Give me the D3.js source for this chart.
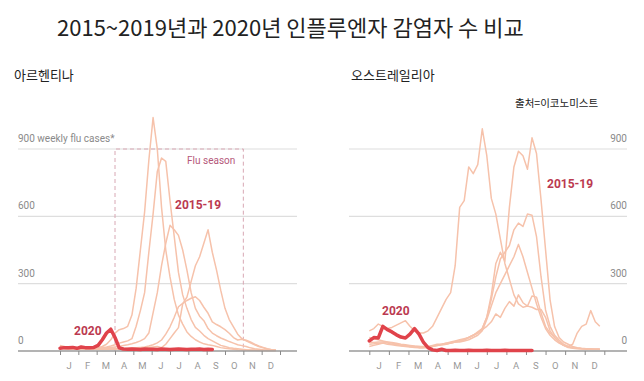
<!DOCTYPE html>
<html><head><meta charset="utf-8">
<script src="https://cdn.jsdelivr.net/npm/d3@7"></script>
<style>
html,body{margin:0;padding:0;background:#fff;}
svg{display:block;}
</style></head>
<body>
<svg id="c" width="644" height="381"></svg>
<script>
// ---------- data ----------
const months = ["J","F","M","A","M","J","J","A","S","O","N","D"];
const yTicks = [0, 300, 600, 900];
const seasonMonths = [3, 10]; // Apr start .. Nov start (Argentina flu season)

// Argentina weekly flu cases (weeks 0..51)
const argA = [25,20,15,15,12,12,10,10,12,15,20,30,50,80,95,100,110,160,280,450,620,850,1040,900,640,450,330,230,160,120,85,65,50,40,32,28,25,20,15,12,10,8,6,5,4,3,3,2,2,2,2,2];
const argB = [10,10,8,8,8,8,8,10,10,12,15,18,22,28,35,40,45,55,110,180,260,440,610,800,860,845,670,510,350,250,190,140,105,89,70,55,45,35,25,20,15,12,10,8,6,5,4,3,3,2,2,2];
const argC = [15,12,10,10,8,8,8,8,10,10,12,14,16,18,20,25,28,32,38,45,55,80,170,260,380,480,560,540,515,450,360,260,190,155,135,100,80,68,58,50,42,35,28,24,20,14,10,8,6,5,4,3];
const argD = [15,12,10,10,10,8,8,8,8,8,8,8,8,8,10,10,10,12,12,14,14,16,18,20,15,30,55,80,104,210,240,310,380,420,480,540,440,360,270,190,140,108,75,55,45,36,28,20,14,9,6,4];
const argE = [20,18,15,12,10,10,10,10,10,10,10,10,10,10,10,10,12,12,14,16,18,22,28,36,49,75,108,150,197,212,225,235,242,225,195,168,130,118,108,95,79,60,49,52,48,40,30,22,16,10,6,4];
const arg2020 = [12,15,14,16,12,18,15,14,16,25,50,80,97,60,14,9,8,9,8,7,9,8,8,7,9,8,7,8,9,8,7,8,8,9,7,8,7];

// Australia weekly flu cases (weeks 0..51)
const ausA = [90,100,120,110,100,105,115,125,135,110,90,80,80,90,110,150,190,230,260,380,640,670,820,790,830,990,870,680,610,500,390,320,250,210,195,200,195,185,185,150,90,60,40,25,20,30,80,110,120,180,130,110];
const ausB = [40,38,40,40,35,30,30,25,25,20,20,20,20,20,25,30,30,35,40,45,50,55,60,70,80,100,150,250,390,440,400,640,820,890,870,810,950,880,674,451,228,109,60,40,30,20,15,12,10,10,8,8];
const ausC = [60,55,50,45,40,38,35,30,28,25,22,20,18,18,20,25,28,30,35,40,45,50,60,70,85,100,150,230,330,410,440,470,540,570,555,610,605,510,331,183,110,70,49,30,20,15,12,10,10,8,8,8];
const ausD = [30,32,35,35,30,28,25,22,20,18,16,15,15,18,22,25,28,30,35,40,40,45,50,60,70,90,140,200,260,300,340,380,420,475,420,350,280,210,150,100,70,50,35,25,18,14,12,10,10,8,8,8];
const ausE = [20,25,30,35,40,35,30,25,25,20,20,15,15,15,20,25,30,35,35,40,45,50,60,70,80,95,110,130,165,150,190,220,200,250,215,200,245,240,170,110,80,60,40,25,15,12,10,10,8,8,8,8];
const aus2020 = [45,60,58,110,95,85,72,62,58,75,100,75,38,15,5,2,8,2,2,3,2,2,3,2,2,2,3,2,2,2,3,2,2,2,2,2,2];

// ---------- drawing ----------
const svg = d3.select("#c");
const cPast = "#f6c2ab", c2020 = "#e0434b", cLabel = "#bb3a50";
const FONT = "Roboto, 'Noto Sans', sans-serif";
const KFONT = "'Noto Sans CJK KR', sans-serif";

svg.append("text").attr("x", 57).attr("y", 36)
  .attr("font-family", KFONT).attr("font-size", 22).attr("fill", "#222")
  .text("2015~2019년과 2020년 인플루엔자 감염자 수 비교");
svg.append("text").attr("x", 14).attr("y", 80)
  .attr("font-family", KFONT).attr("font-size", 13).attr("fill", "#222").text("아르헨티나");
svg.append("text").attr("x", 351).attr("y", 80)
  .attr("font-family", KFONT).attr("font-size", 13).attr("fill", "#222").text("오스트레일리아");
svg.append("text").attr("x", 515).attr("y", 107)
  .attr("font-family", KFONT).attr("font-size", 10.5).attr("fill", "#222").text("출처=이코노미스트");

function panel(cfg) {
  const g = svg.append("g");
  const y = d3.scaleLinear().domain([0, 900]).range([351, 149]);
  const xm = d3.scaleLinear().domain([0, 12]).range(cfg.xr);
  const xw = d3.scaleLinear().domain([0, 52]).range(cfg.xr);

  // gridlines
  g.selectAll("line.grid").data(yTicks.filter(d => d > 0)).join("line")
    .attr("x1", cfg.gx[0]).attr("x2", cfg.gx[1])
    .attr("y1", d => y(d)).attr("y2", d => y(d))
    .attr("stroke", "#dedede").attr("stroke-width", 1.2);

  // y labels
  g.selectAll("text.yl").data(yTicks).join("text")
    .attr("x", cfg.labelRight ? cfg.gx[1] : cfg.gx[0])
    .attr("y", d => y(d) - 7)
    .attr("text-anchor", cfg.labelRight ? "end" : "start")
    .attr("font-family", FONT).attr("font-size", 10).attr("fill", "#8a8a8a")
    .text((d, i) => (!cfg.labelRight && d === 900) ? "900 weekly flu cases*" : d);

  // flu season box
  if (cfg.season) {
    const [a, b] = cfg.season;
    g.append("path")
      .attr("d", `M${xm(a)},${y(0)}V${y(900)}H${xm(b)}V${y(0)}`)
      .attr("fill", "none").attr("stroke", "#d8a8b4").attr("stroke-width", 1)
      .attr("stroke-dasharray", "4,3");
    g.append("text").attr("x", xm(b) - 8).attr("y", y(900) + 15)
      .attr("text-anchor", "end").attr("font-family", FONT).attr("font-size", 10)
      .attr("fill", "#b5587a").text("Flu season");
  }

  const line = d3.line().x((d, i) => xw(i)).y(d => y(d)).curve(d3.curveLinear);
  g.selectAll("path.past").data(cfg.past).join("path")
    .attr("d", line).attr("fill", "none").attr("stroke", cPast)
    .attr("stroke-width", 1.5).attr("stroke-linejoin", "round");

  // baseline
  g.append("line").attr("x1", cfg.gx[0]).attr("x2", cfg.gx[1])
    .attr("y1", y(0)).attr("y2", y(0)).attr("stroke", "#9a9a9a").attr("stroke-width", 1.5);

  // month ticks
  const axis = d3.axisBottom(xm).tickValues(d3.range(0, 13)).tickSize(4).tickFormat("");
  const ag = g.append("g").attr("transform", `translate(0,${y(0)})`).call(axis);
  ag.select(".domain").remove();
  ag.selectAll(".tick line").attr("stroke", "#8a8a8a").attr("stroke-width", 1);

  const band = d3.scaleBand().domain(d3.range(12)).range(cfg.xr);
  const mg = g.append("g").attr("transform", `translate(0,${y(0) + 8})`)
    .call(d3.axisBottom(band).tickSize(0).tickFormat(i => months[i]));
  mg.select(".domain").remove();
  mg.selectAll("text").attr("font-family", FONT).attr("font-size", 9.5).attr("fill", "#999");

  g.append("path").datum(cfg.now).attr("d", line).attr("fill", "none")
    .attr("stroke", c2020).attr("stroke-width", 3.5)
    .attr("stroke-linejoin", "round").attr("stroke-linecap", "round");

  g.append("text").attr("x", cfg.pastLabel[0]).attr("y", cfg.pastLabel[1])
    .attr("font-family", FONT).attr("font-weight", "bold").attr("font-size", 12)
    .attr("fill", cLabel).text("2015-19");
  g.append("text").attr("x", cfg.nowLabel[0]).attr("y", cfg.nowLabel[1])
    .attr("font-family", FONT).attr("font-weight", "bold").attr("font-size", 12)
    .attr("fill", cLabel).text("2020");
}

panel({
  xr: [60, 280], gx: [18, 297], labelRight: false, season: seasonMonths,
  past: [argA, argB, argC, argD, argE], now: arg2020,
  pastLabel: [175, 209], nowLabel: [74, 335]
});
panel({
  xr: [369.3, 604.3], gx: [349, 627], labelRight: true, season: null,
  past: [ausA, ausB, ausC, ausD, ausE], now: aus2020,
  pastLabel: [547, 188], nowLabel: [382, 315]
});
</script>
</body></html>
